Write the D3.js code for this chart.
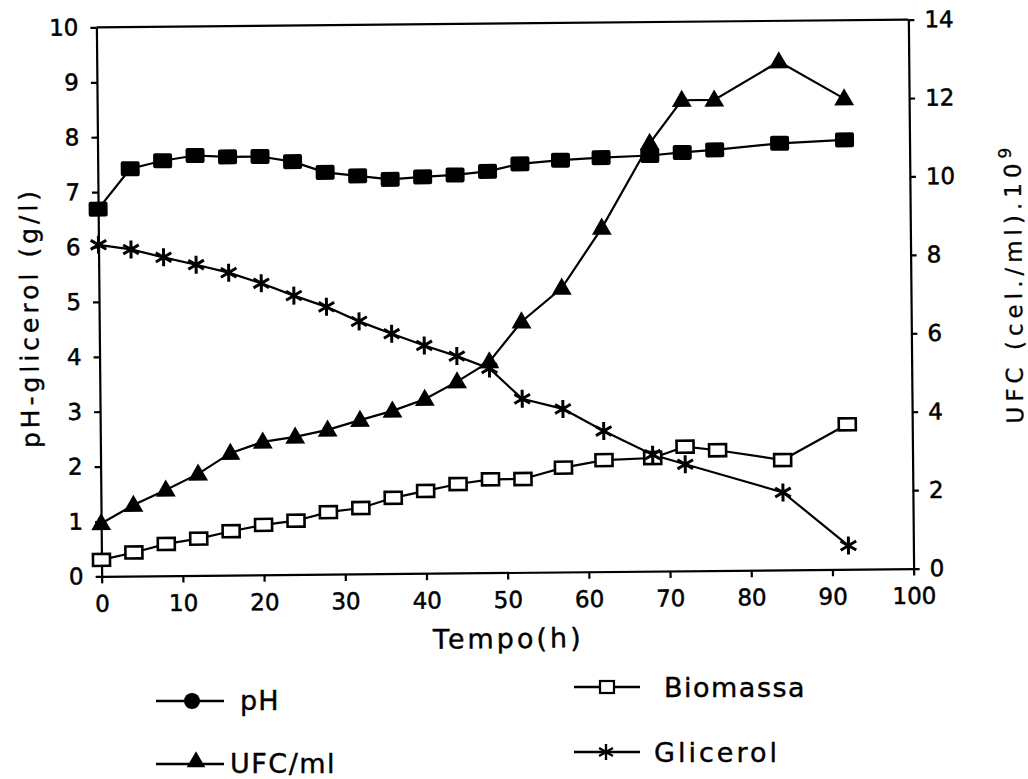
<!DOCTYPE html>
<html><head><meta charset="utf-8">
<script src="https://cdn.jsdelivr.net/npm/d3@7"></script>
<style>
html,body{margin:0;padding:0;background:#fff;}
text{font-family:"DejaVu Sans",sans-serif;fill:#000;}
</style></head>
<body>
<svg id="chart" width="1028" height="779"></svg>
<script>
const time = [0,4,8,12,16,20,24,28,32,36,40,44,48,52,57,62,68,72,76,84,92];
const ph = [6.69,7.42,7.56,7.65,7.62,7.62,7.52,7.32,7.25,7.18,7.22,7.25,7.31,7.44,7.5,7.54,7.57,7.62,7.66,7.77,7.82];
const biomassa = [0.30,0.43,0.58,0.67,0.80,0.91,0.98,1.13,1.2,1.38,1.5,1.62,1.7,1.7,1.9,2.03,2.06,2.26,2.19,2.0,2.64];
const glicerol = [6.04,5.95,5.8,5.66,5.51,5.31,5.08,4.87,4.6,4.37,4.15,3.95,3.72,3.16,2.97,2.56,2.12,1.94,null,1.41,0.43];
const ufc = [1.35,1.81,2.19,2.59,3.11,3.39,3.51,3.68,3.92,4.15,4.44,4.88,5.38,6.39,7.24,8.76,10.91,12.0,12.0,12.96,12.0];
const xTicks = [0,10,20,30,40,50,60,70,80,90,100];
const leftTicks = [0,1,2,3,4,5,6,7,8,9,10];
const rightTicks = [0,2,4,6,8,10,12,14];
const legendItems = ["pH","UFC/ml","Biomassa","Glicerol"];

const svg = d3.select("#chart");
const L=99, R=911, T=23.5, B=572.5;
const g = svg.append("g").attr("transform","rotate(-0.55,505,298)");

const x = d3.scaleLinear().domain([0,100]).range([L,R]);
const yL = d3.scaleLinear().domain([0,10]).range([B,T]);
const yR = d3.scaleLinear().domain([0,14]).range([B,T]);

g.append("line").attr("x1",L).attr("x2",R).attr("y1",T).attr("y2",T).attr("stroke","#000").attr("stroke-width",2.2);

const xAxis = g.append("g").attr("transform",`translate(0,${B})`)
  .call(d3.axisBottom(x).tickValues(xTicks).tickSize(7).tickPadding(12).tickSizeOuter(0));
const yAxisL = g.append("g").attr("transform",`translate(${L},0)`)
  .call(d3.axisLeft(yL).tickValues(leftTicks).tickSize(6).tickPadding(12).tickSizeOuter(0));
const yAxisR = g.append("g").attr("transform",`translate(${R},0)`)
  .call(d3.axisRight(yR).tickValues(rightTicks).tickSize(6).tickPadding(10).tickSizeOuter(0));
[xAxis,yAxisL,yAxisR].forEach(a=>{
  a.attr("font-size",null).attr("font-family",null);
  a.select(".domain").attr("stroke","#000").attr("stroke-width",2.2);
  a.selectAll(".tick line").attr("stroke","#000").attr("stroke-width",2.2);
  a.selectAll(".tick text").style("font-size","23px").attr("fill","#000")
    .attr("stroke","#000").attr("stroke-width",0.5);
});

// titles
g.append("text").attr("transform","translate(38,313) rotate(-90)").attr("text-anchor","middle")
  .style("font-size","25px").style("letter-spacing","4px").attr("stroke","#000").attr("stroke-width",0.4)
  .text("pH-glicerol (g/l)");
g.append("text").attr("x",505).attr("y",648).attr("text-anchor","middle")
  .style("font-size","27px").style("letter-spacing","3px").attr("stroke","#000").attr("stroke-width",0.4)
  .text("Tempo(h)");
const rt = g.append("text").attr("transform","translate(1022,288) rotate(-90)").attr("text-anchor","middle")
  .style("font-size","23px").style("letter-spacing","5px").attr("stroke","#000").attr("stroke-width",0.3);
rt.append("tspan").text("UFC (cel./ml).10");
rt.append("tspan").attr("dy","-10").style("font-size","17px").text("9");

const idx = d3.range(time.length);
const line = (arr, ys) => d3.line().x(i=>x(time[i])).y(i=>ys(arr[i]))(idx.filter(i=>arr[i]!=null));
const plotG = g.append("g");
plotG.append("path").attr("d",line(ph,yL)).attr("fill","none").attr("stroke","#000").attr("stroke-width",2.2);
plotG.append("path").attr("d",line(glicerol,yL)).attr("fill","none").attr("stroke","#000").attr("stroke-width",2.2);
plotG.append("path").attr("d",line(biomassa,yL)).attr("fill","none").attr("stroke","#000").attr("stroke-width",2.2);
plotG.append("path").attr("d",line(ufc,yR)).attr("fill","none").attr("stroke","#000").attr("stroke-width",2.2);

const sqW=19, sqH=15;
plotG.selectAll(".ph").data(idx).join("rect").attr("class","ph")
  .attr("x",i=>x(time[i])-sqW/2).attr("y",i=>yL(ph[i])-sqH/2).attr("width",sqW).attr("height",sqH).attr("rx",2).attr("fill","#000");
const bW=17, bH=12;
plotG.selectAll(".bio").data(idx).join("rect").attr("class","bio")
  .attr("x",i=>x(time[i])-bW/2).attr("y",i=>yL(biomassa[i])-bH/2).attr("width",bW).attr("height",bH)
  .attr("fill","#fff").attr("stroke","#000").attr("stroke-width",2.6);
const tri = d3.symbol().type(d3.symbolTriangle).size(170);
plotG.selectAll(".ufc").data(idx).join("path").attr("class","ufc")
  .attr("transform",i=>`translate(${x(time[i])},${yR(ufc[i])+1})`).attr("d",tri()).attr("fill","#000");
function asterisk(r){
  let p="";
  [90,30,150].forEach(a=>{const c=Math.cos(a*Math.PI/180)*r, s=Math.sin(a*Math.PI/180)*r; p+=`M${-c},${-s}L${c},${s}`;});
  return p;
}
plotG.selectAll(".gli").data(idx.filter(i=>glicerol[i]!=null)).join("path").attr("class","gli")
  .attr("transform",i=>`translate(${x(time[i])},${yL(glicerol[i])})`).attr("d",asterisk(9))
  .attr("stroke","#000").attr("stroke-width",3).attr("fill","none");

// legend
const lg = svg.append("g");
function legLine(x1,x2,y){lg.append("line").attr("x1",x1).attr("x2",x2).attr("y1",y).attr("y2",y).attr("stroke","#000").attr("stroke-width",2.6);}
function legText(xp,yp,t,ls){lg.append("text").attr("x",xp).attr("y",yp).style("font-size","27px").style("letter-spacing",ls+"px")
  .attr("stroke","#000").attr("stroke-width",0.4).text(t);}
legLine(156,224,701); lg.append("circle").attr("cx",192).attr("cy",701).attr("r",8).attr("fill","#000");
legText(240,710,legendItems[0],1);
legLine(156,224,764); lg.append("path").attr("transform","translate(196,762)").attr("d",d3.symbol().type(d3.symbolTriangle).size(150)()).attr("fill","#000");
legText(230,773,legendItems[1],1.5);
legLine(574,640,687); lg.append("rect").attr("x",600).attr("y",681).attr("width",14).attr("height",12).attr("fill","#fff").attr("stroke","#000").attr("stroke-width",2.2);
legText(664,697,legendItems[2],1.5);
legLine(574,640,752); lg.append("path").attr("transform","translate(606,752)").attr("d",asterisk(8)).attr("stroke","#000").attr("stroke-width",2.4);
legText(654,762,legendItems[3],3);
</script>
</body></html>
